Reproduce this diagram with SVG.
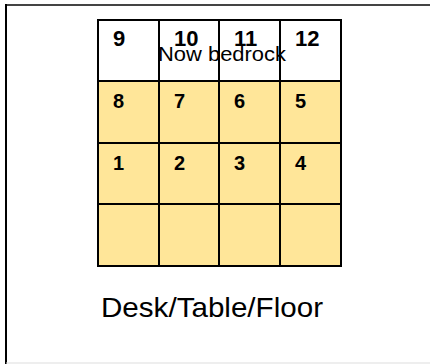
<svg xmlns="http://www.w3.org/2000/svg" width="430" height="364" viewBox="0 0 430 364">
<style>
.cell{stroke:#000;stroke-width:2}
.top{fill:#fff}
.gold{fill:#FFE699}
.num{font-family:"Liberation Sans",Arial,sans-serif;font-weight:bold;fill:#000}
.n1{font-size:22px}
.n2{font-size:20px}
.lbl{font-family:"Liberation Sans",Arial,sans-serif;fill:#000}
</style>
<rect x="0" y="0" width="430" height="364" fill="#fff"/>
<g id="frame">
<line x1="5" y1="5" x2="430" y2="5" stroke="#444" stroke-width="2"/>
<line x1="6" y1="4" x2="6" y2="364" stroke="#000" stroke-width="2"/>
<line x1="6" y1="363" x2="430" y2="363" stroke="#ddd" stroke-width="1"/>
</g>
<g id="row-top">
<rect class="cell top" x="98" y="20" width="61" height="61"/>
<rect class="cell top" x="159" y="20" width="60" height="61"/>
<rect class="cell top" x="219" y="20" width="61" height="61"/>
<rect class="cell top" x="280" y="20" width="61" height="61"/>
<text class="num n1" x="113" y="46">9</text>
<text class="num n1" x="174" y="46">10</text>
<text class="num n1" x="234" y="46">11</text>
<text class="num n1" x="295" y="46">12</text>
</g>
<g id="row-2">
<rect class="cell gold" x="98" y="81" width="61" height="62"/>
<rect class="cell gold" x="159" y="81" width="60" height="62"/>
<rect class="cell gold" x="219" y="81" width="61" height="62"/>
<rect class="cell gold" x="280" y="81" width="61" height="62"/>
<text class="num n2" x="113" y="107.5">8</text>
<text class="num n2" x="174" y="107.5">7</text>
<text class="num n2" x="234" y="107.5">6</text>
<text class="num n2" x="295" y="107.5">5</text>
</g>
<g id="row-3">
<rect class="cell gold" x="98" y="143" width="61" height="61"/>
<rect class="cell gold" x="159" y="143" width="60" height="61"/>
<rect class="cell gold" x="219" y="143" width="61" height="61"/>
<rect class="cell gold" x="280" y="143" width="61" height="61"/>
<text class="num n2" x="113" y="169.5">1</text>
<text class="num n2" x="174" y="169.5">2</text>
<text class="num n2" x="234" y="169.5">3</text>
<text class="num n2" x="295" y="169.5">4</text>
</g>
<g id="row-4">
<rect class="cell gold" x="98" y="204" width="61" height="62"/>
<rect class="cell gold" x="159" y="204" width="60" height="62"/>
<rect class="cell gold" x="219" y="204" width="61" height="62"/>
<rect class="cell gold" x="280" y="204" width="61" height="62"/>
</g>
<g id="label-bedrock">
<text class="lbl" x="158" y="61" font-size="21" textLength="128" lengthAdjust="spacingAndGlyphs">Now bedrock</text>
</g>
<g id="label-desk">
<text class="lbl" x="101" y="316.5" font-size="28" textLength="222" lengthAdjust="spacingAndGlyphs">Desk/Table/Floor</text>
</g>
<g id="connectors"/>
</svg>
